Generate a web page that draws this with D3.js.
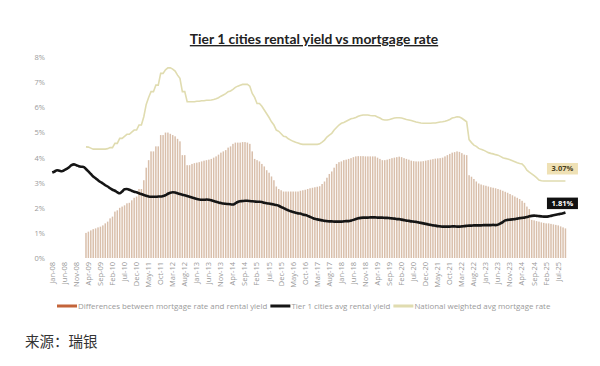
<!DOCTYPE html>
<html>
<head>
<meta charset="utf-8">
<title>Tier 1 cities rental yield vs mortgage rate</title>
<script src="https://cdn.jsdelivr.net/npm/d3@7"></script>
<style>
  body { margin: 0; background: #fff; }
  svg text { font-family: "Open Sans", "Noto Sans", sans-serif; }
</style>
</head>
<body>
<script>

// monthly data, Jan-08 .. Oct-25
var firstMonth = new Date(2008, 0, 1);
var mortgageStart = 14; // Mar-09, first month of the mortgage / difference series

var xTickLabels = ["Jan-08","Jun-08","Nov-08","Apr-09","Sep-09","Feb-10","Jul-10","Dec-10","May-11","Oct-11",
  "Mar-12","Aug-12","Jan-13","Jun-13","Nov-13","Apr-14","Sep-14","Feb-15","Jul-15","Dec-15",
  "May-16","Oct-16","Mar-17","Aug-17","Jan-18","Jun-18","Nov-18","Apr-19","Sep-19","Feb-20",
  "Jul-20","Dec-20","May-21","Oct-21","Mar-22","Aug-22","Jan-23","Jun-23","Nov-23","Apr-24",
  "Sep-24","Feb-25","Jul-25"];

var yTicks = [0, 1, 2, 3, 4, 5, 6, 7, 8];

// Tier 1 cities avg rental yield (%)
var rentalYield = [
  3.41,3.45,3.50,3.48,3.46,3.50,3.55,3.62,3.70,3.73,3.70,3.66,
  3.64,3.63,3.55,3.45,3.35,3.25,3.18,3.10,3.03,2.97,2.90,2.85,
  2.78,2.72,2.68,2.62,2.58,2.65,2.74,2.75,2.72,2.68,2.64,2.62,
  2.58,2.55,2.51,2.48,2.45,2.44,2.44,2.44,2.45,2.45,2.47,2.50,
  2.56,2.60,2.62,2.61,2.58,2.55,2.52,2.50,2.47,2.44,2.41,2.38,
  2.35,2.33,2.32,2.32,2.33,2.32,2.30,2.27,2.24,2.21,2.19,2.17,
  2.16,2.15,2.14,2.13,2.18,2.23,2.26,2.27,2.28,2.28,2.27,2.26,
  2.25,2.24,2.24,2.23,2.20,2.18,2.17,2.15,2.13,2.11,2.08,2.03,
  1.99,1.94,1.90,1.86,1.83,1.80,1.78,1.77,1.73,1.71,1.68,1.64,
  1.60,1.56,1.54,1.52,1.50,1.48,1.47,1.46,1.46,1.45,1.45,1.45,
  1.45,1.46,1.47,1.47,1.49,1.52,1.55,1.58,1.60,1.61,1.61,1.61,
  1.62,1.62,1.62,1.61,1.61,1.61,1.60,1.60,1.59,1.58,1.57,1.55,
  1.55,1.53,1.51,1.49,1.48,1.46,1.45,1.44,1.42,1.40,1.38,1.36,
  1.34,1.32,1.30,1.29,1.27,1.26,1.25,1.25,1.25,1.25,1.26,1.26,
  1.25,1.25,1.26,1.27,1.28,1.29,1.29,1.30,1.30,1.30,1.30,1.31,
  1.31,1.31,1.31,1.32,1.31,1.33,1.38,1.43,1.50,1.52,1.53,1.54,
  1.55,1.57,1.59,1.60,1.61,1.63,1.66,1.68,1.69,1.68,1.67,1.66,
  1.65,1.65,1.66,1.68,1.70,1.72,1.74,1.76,1.78,1.81
];

// National weighted avg mortgage rate (%), from Mar-09
var mortgageRate = [
  4.43,4.42,4.38,4.34,4.34,4.34,4.34,4.34,4.34,4.36,
  4.40,4.40,4.57,4.57,4.77,4.77,4.85,4.93,4.93,5.02,5.10,5.10,
  5.30,5.30,5.63,6.12,6.40,6.63,6.63,6.89,6.89,7.36,7.36,7.50,
  7.58,7.58,7.53,7.45,7.29,7.16,6.63,6.63,6.23,6.23,6.23,6.23,
  6.25,6.25,6.27,6.27,6.29,6.29,6.30,6.32,6.35,6.39,6.45,6.50,
  6.55,6.63,6.66,6.72,6.80,6.85,6.89,6.92,6.92,6.92,6.85,6.56,
  6.40,6.16,6.16,6.05,5.90,5.75,5.60,5.43,5.30,5.10,5.05,4.95,
  4.85,4.83,4.75,4.70,4.65,4.61,4.58,4.55,4.53,4.53,4.53,4.53,
  4.53,4.53,4.53,4.55,4.62,4.70,4.82,4.90,4.97,5.10,5.20,5.30,
  5.37,5.40,5.45,5.50,5.55,5.57,5.60,5.65,5.68,5.70,5.70,5.70,
  5.68,5.67,5.67,5.62,5.58,5.52,5.50,5.50,5.52,5.55,5.58,5.59,
  5.59,5.58,5.55,5.52,5.50,5.48,5.45,5.42,5.40,5.38,5.37,5.37,
  5.37,5.37,5.38,5.38,5.40,5.42,5.43,5.45,5.48,5.52,5.58,5.60,
  5.63,5.62,5.57,5.50,5.43,4.72,4.60,4.50,4.45,4.37,4.33,4.30,
  4.25,4.20,4.17,4.15,4.12,4.10,4.05,4.00,3.97,3.95,3.92,3.88,
  3.84,3.80,3.77,3.75,3.65,3.50,3.42,3.35,3.28,3.20,3.11,3.08,
  3.07,3.07,3.07,3.07,3.07,3.07,3.07,3.07,3.07,3.07
];

// Differences between mortgage rate and rental yield (%), from Mar-09
var rateGap = [
  1.00,1.05,1.10,1.15,1.18,1.22,1.25,1.30,1.38,1.45,
  1.58,1.65,1.85,1.90,2.00,2.05,2.10,2.18,2.20,2.30,2.40,2.45,
  2.75,2.75,3.10,3.60,3.90,4.25,4.25,4.45,4.45,4.90,4.90,5.00,
  5.00,4.95,4.90,4.85,4.75,4.65,4.10,4.10,3.70,3.70,3.75,3.78,
  3.80,3.82,3.85,3.88,3.90,3.92,3.95,4.00,4.05,4.12,4.20,4.25,
  4.30,4.40,4.45,4.55,4.60,4.60,4.60,4.62,4.62,4.60,4.55,4.25,
  3.95,3.90,3.85,3.75,3.65,3.50,3.40,3.25,3.10,2.85,2.75,2.70,
  2.65,2.65,2.65,2.65,2.65,2.65,2.65,2.68,2.70,2.72,2.75,2.78,
  2.80,2.82,2.84,2.86,2.95,3.05,3.20,3.35,3.45,3.60,3.75,3.82,
  3.85,3.90,3.92,3.95,3.98,4.02,4.05,4.06,4.06,4.06,4.05,4.05,
  4.05,4.05,4.05,4.00,3.95,3.90,3.90,3.92,3.95,3.98,4.00,4.02,
  4.04,4.02,3.98,3.95,3.92,3.88,3.86,3.85,3.85,3.85,3.86,3.88,
  3.90,3.92,3.94,3.96,3.97,3.98,4.00,4.05,4.10,4.15,4.20,4.22,
  4.25,4.23,4.18,4.12,4.10,3.30,3.24,3.15,3.05,2.97,2.93,2.90,
  2.88,2.85,2.82,2.80,2.78,2.75,2.72,2.68,2.64,2.60,2.55,2.50,
  2.45,2.40,2.35,2.28,2.20,2.05,1.95,1.52,1.50,1.47,1.45,1.42,
  1.40,1.38,1.38,1.36,1.34,1.32,1.30,1.26,1.22,1.18
];

var w = 600, h = 366;
var months = d3.range(rentalYield.length).map(function(i){ return d3.timeMonth.offset(firstMonth, i); });

var svg = d3.select("body")
  .append("svg")
  .attr("width", w)
  .attr("height", h);

svg.append("rect").attr("width", w).attr("height", h).attr("fill", "#fff");

var xScale = d3.scaleBand()
  .domain(d3.range(months.length))
  .range([51.5, 566.2])
  .paddingInner(0.38)
  .paddingOuter(0);

var xMid = function(i){ return xScale(i) + xScale.bandwidth() / 2; };

var yScale = d3.scaleLinear()
  .domain([0, 8])
  .range([258, 57.3]);

// title
svg.append("text")
  .attr("x", 314)
  .attr("y", 44)
  .attr("text-anchor", "middle")
  .style("font-family", "Lato, 'Open Sans', sans-serif")
  .style("font-size", "13.8px")
  .style("font-weight", "bold")
  .style("text-decoration", "underline")
  .attr("fill", "#222")
  .text("Tier 1 cities rental yield vs mortgage rate");

// y axis labels
var yAxis = d3.axisLeft(yScale)
  .tickValues(yTicks)
  .tickSize(0)
  .tickPadding(0)
  .tickFormat(function(d){ return d + "%"; });

var gY = svg.append("g")
  .attr("transform", "translate(45,0)")
  .call(yAxis);
gY.select(".domain").remove();
gY.selectAll("text").attr("fill", "#9a9a9a").style("font-size", "7.5px");

// bars
var gapData = rateGap.map(function(v, k){ return {i: k + mortgageStart, v: v}; });
svg.append("g").selectAll("rect")
  .data(gapData)
  .enter()
  .append("rect")
  .attr("x", function(d){ return xScale(d.i); })
  .attr("width", xScale.bandwidth())
  .attr("y", function(d){ return yScale(d.v); })
  .attr("height", function(d){ return yScale(0) - yScale(d.v); })
  .attr("fill", "#d9bfab");

// x axis labels
var tickIdx = d3.range(0, months.length, 5).slice(0, xTickLabels.length);
var xAxis = d3.axisBottom(xScale)
  .tickValues(tickIdx)
  .tickSize(0)
  .tickFormat(function(d, k){ return xTickLabels[k]; });

var gX = svg.append("g")
  .attr("transform", "translate(0,262)")
  .call(xAxis);
gX.select(".domain").remove();
gX.selectAll("text")
  .attr("y", 0)
  .attr("x", 0)
  .attr("dy", "0.32em")
  .attr("transform", "rotate(-90)")
  .attr("text-anchor", "end")
  .attr("fill", "#9a9a9a")
  .style("font-size", "7.5px");

// lines
var mortgageLine = d3.line()
  .x(function(d, k){ return xMid(k + mortgageStart); })
  .y(function(d){ return yScale(d); });

svg.append("path")
  .datum(mortgageRate)
  .attr("fill", "none")
  .attr("stroke", "#e0dcb0")
  .attr("stroke-width", 1.6)
  .attr("d", mortgageLine);

var rentalLine = d3.line()
  .x(function(d, k){ return xMid(k); })
  .y(function(d){ return yScale(d); })
  .curve(d3.curveMonotoneX);

svg.append("path")
  .datum(rentalYield)
  .attr("fill", "none")
  .attr("stroke", "#151515")
  .attr("stroke-width", 2.6)
  .attr("stroke-linejoin", "round")
  .attr("d", rentalLine);

// end labels
function endLabel(series, offset, bg, fg){
  var k = series.length - 1;
  var last = series[k];
  var cx = xMid(months.length - 1) - 3;
  var by = yScale(last) - offset;
  var g = svg.append("g");
  g.append("rect")
    .attr("x", cx - 15.5)
    .attr("y", by - 11.5)
    .attr("width", 31)
    .attr("height", 11.5)
    .attr("fill", bg);
  g.append("text")
    .attr("x", cx)
    .attr("y", by - 3)
    .attr("text-anchor", "middle")
    .style("font-size", "7.5px")
    .style("font-weight", "bold")
    .attr("fill", fg)
    .text(last.toFixed(2) + "%");
}
endLabel(mortgageRate, 6.5, "#efe1b5", "#4a3f20");
endLabel(rentalYield, 3.5, "#111", "#fff");

// legend
var legendItems = [
  {label: "Differences between mortgage rate and rental yield", color: "#c3643a"},
  {label: "Tier 1 cities avg rental yield", color: "#151515"},
  {label: "National weighted avg mortgage rate", color: "#e0dcb0"}
];
var lx = 57, ly = 306;
legendItems.forEach(function(it){
  svg.append("rect")
    .attr("x", lx).attr("y", ly - 1.5)
    .attr("width", 20).attr("height", 3)
    .attr("fill", it.color);
  var t = svg.append("text")
    .attr("x", lx + 21)
    .attr("y", ly + 2.7)
    .style("font-size", "7.9px")
    .attr("fill", "#9a9a9a")
    .text(it.label);
  lx += 21 + t.node().getComputedTextLength() + 3;
});

// source
svg.append("text")
  .attr("x", 25)
  .attr("y", 347)
  .style("font-family", "'Noto Sans CJK SC', sans-serif")
  .style("font-size", "14.5px")
  .attr("fill", "#333")
  .text("来源：瑞银");

</script>
</body>
</html>
